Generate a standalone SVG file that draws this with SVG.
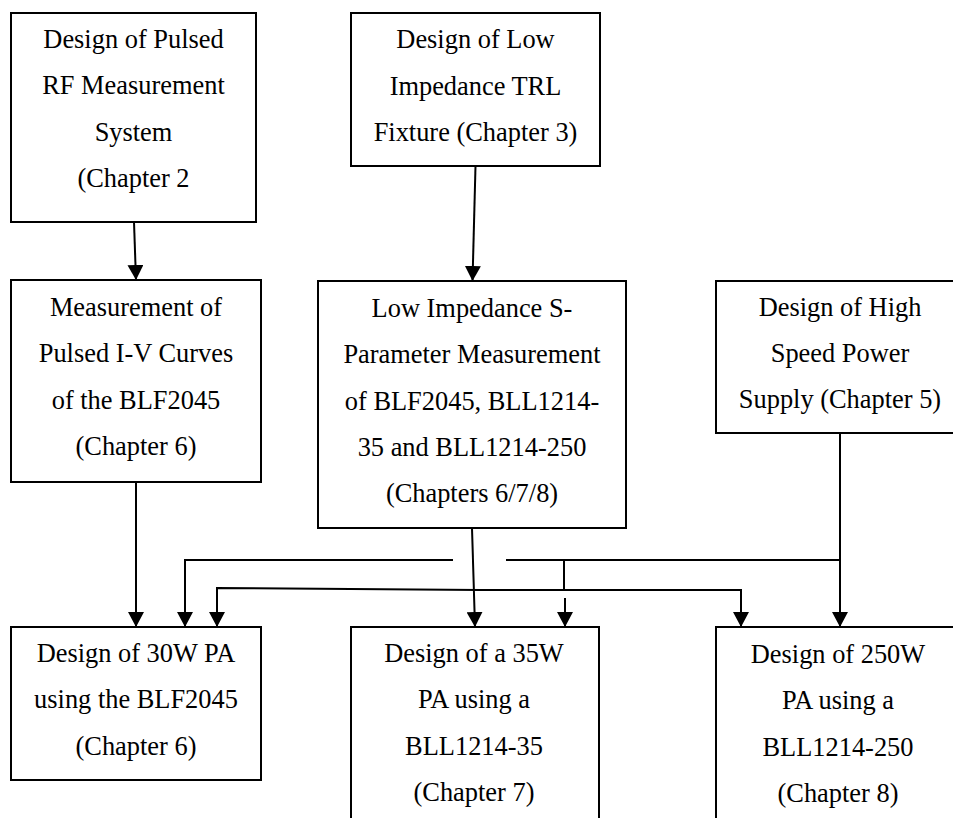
<svg xmlns="http://www.w3.org/2000/svg" width="953" height="818" viewBox="0 0 953 818">
<style>
.box{fill:#fff;stroke:#000;stroke-width:2}
.t{font-size:26.4px;fill:#000;text-anchor:middle}
.c{fill:none;stroke:#000;stroke-width:2}
</style>
<defs>
<marker id="ah" viewBox="0 0 15 16" markerWidth="15" markerHeight="16" refX="15" refY="8" orient="auto" markerUnits="userSpaceOnUse">
<path d="M0,0 L15,8 L0,16 z" fill="#000"/>
</marker>
</defs>
<rect width="953" height="818" fill="#fff"/>
<g id="connectors">
<path class="c" d="M134,222 L136,280" marker-end="url(#ah)"/>
<path class="c" d="M475.5,166 L472.5,281" marker-end="url(#ah)"/>
<path class="c" d="M136,482 L136,627" marker-end="url(#ah)"/>
<path class="c" d="M472,528 L475,627" marker-end="url(#ah)"/>
<path class="c" d="M453,560 L185,560 L185,627" marker-end="url(#ah)"/>
<path class="c" d="M506,560 L840,560"/>
<path class="c" d="M564,560 L564,589"/>
<path class="c" d="M480,590 L217,588 L217,627" marker-end="url(#ah)"/>
<path class="c" d="M480,590 L741,590 L741,627" marker-end="url(#ah)"/>
<path class="c" d="M565,598 L565,627" marker-end="url(#ah)"/>
<path class="c" d="M840,433 L840,627" marker-end="url(#ah)"/>
</g>
<g font-family="Liberation Serif, Tinos, Times New Roman, Times, serif">
<g id="n1">
<rect class="box" x="11" y="13" width="245" height="209"/>
<text class="t" x="133.5" y="47.5">Design of Pulsed</text>
<text class="t" x="133.5" y="94">RF Measurement</text>
<text class="t" x="133.5" y="140.5">System</text>
<text class="t" x="133.5" y="187">(Chapter 2</text>
</g>
<g id="n2">
<rect class="box" x="351" y="13" width="249" height="153"/>
<text class="t" x="475.5" y="48">Design of Low</text>
<text class="t" x="475.5" y="94.5">Impedance TRL</text>
<text class="t" x="475.5" y="141">Fixture (Chapter 3)</text>
</g>
<g id="n3">
<rect class="box" x="11" y="280" width="250" height="202"/>
<text class="t" x="136" y="316">Measurement of</text>
<text class="t" x="136" y="362">Pulsed I-V Curves</text>
<text class="t" x="136" y="409">of the BLF2045</text>
<text class="t" x="136" y="455">(Chapter 6)</text>
</g>
<g id="n4">
<rect class="box" x="318" y="281" width="308" height="247"/>
<text class="t" x="472" y="317">Low Impedance S-</text>
<text class="t" x="472" y="363">Parameter Measurement</text>
<text class="t" x="472" y="410">of BLF2045, BLL1214-</text>
<text class="t" x="472" y="456">35 and BLL1214-250</text>
<text class="t" x="472" y="502">(Chapters 6/7/8)</text>
</g>
<g id="n5">
<rect class="box" x="716" y="281" width="250" height="152"/>
<text class="t" x="840" y="316">Design of High</text>
<text class="t" x="840" y="362">Speed Power</text>
<text class="t" x="840" y="408">Supply (Chapter 5)</text>
</g>
<g id="n6">
<rect class="box" x="11" y="627" width="250" height="153"/>
<text class="t" x="136" y="662">Design of 30W PA</text>
<text class="t" x="136" y="708">using the BLF2045</text>
<text class="t" x="136" y="755">(Chapter 6)</text>
</g>
<g id="n7">
<rect class="box" x="351" y="627" width="248" height="200"/>
<text class="t" x="474" y="662">Design of a 35W</text>
<text class="t" x="474" y="708">PA using a</text>
<text class="t" x="474" y="755">BLL1214-35</text>
<text class="t" x="474" y="801">(Chapter 7)</text>
</g>
<g id="n8">
<rect class="box" x="716" y="627" width="250" height="200"/>
<text class="t" x="838" y="663">Design of 250W</text>
<text class="t" x="838" y="709">PA using a</text>
<text class="t" x="838" y="756">BLL1214-250</text>
<text class="t" x="838" y="802">(Chapter 8)</text>
</g>
</g>
</svg>
